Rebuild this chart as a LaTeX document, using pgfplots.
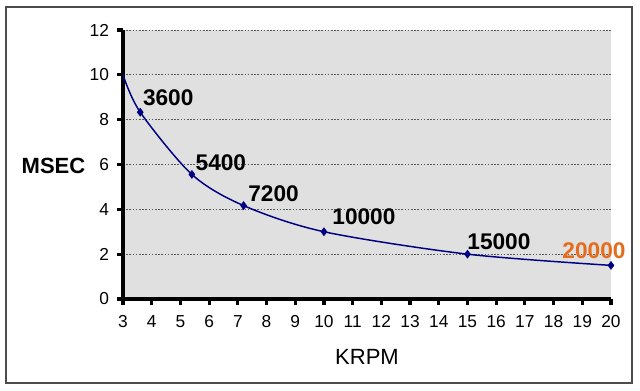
\documentclass[border=0pt]{standalone}
\usepackage{pgfplots}
\pgfplotsset{compat=1.18}
\usepackage{fontspec}
\setmainfont{Liberation Sans}
\definecolor{navyc}{RGB}{0,0,128}
\definecolor{orangec}{RGB}{230,108,28}
\definecolor{bgc}{RGB}{224,224,224}
\begin{document}
\begin{tikzpicture}
\useasboundingbox (-92.25pt,-69pt) rectangle (387.75pt,224.25pt);
\fill[white] (-92.25pt,-69pt) rectangle (387.75pt,224.25pt);
\draw[line width=1.2pt, gray!60!black] (-87.75pt,-63pt) rectangle (381.75pt,219pt);
\begin{axis}[
  at={(0pt,0pt)}, anchor=south west,
  scale only axis, width=366pt, height=201.75pt,
  xmin=3, xmax=20, ymin=0, ymax=12,
  xtick={3,4,...,20}, ytick={0,2,...,12},
  axis lines=left, axis line style={-, line width=2.4pt, black},
  tick align=outside, major tick length=4.5pt,
  tick style={line width=2.4pt, black},
  axis background/.style={fill=bgc},
  ymajorgrids, grid style={dash pattern=on 1.2pt off 1.2pt, line width=0.7pt, gray!70!black},
  /pgf/number format/assume math mode=true,
  ticklabel style={font=\fontsize{13}{14}\selectfont},
  xticklabel style={yshift=-4.5pt},
  yticklabel style={xshift=-2.5pt},
  xlabel={KRPM}, ylabel={\textbf{MSEC}},
  xlabel style={font=\fontsize{16.5}{18}\selectfont, at={(axis description cs:0.5,-0.2156)}, anchor=center},
  ylabel style={font=\fontsize{16.5}{18}\selectfont, rotate=-90, at={(axis description cs:-0.1424,0.4944)}, anchor=center},
  clip=false,
]
\addplot[navyc, line width=1.1pt, smooth, no marks] coordinates {
  (3,10) (3.6,8.333) (5.4,5.556) (7.2,4.167) (10,3) (15,2) (20,1.5)
};
\addplot[only marks, mark=diamond*, mark size=3pt, color=navyc, fill=navyc] coordinates {
  (3.6,8.333) (5.4,5.556) (7.2,4.167) (10,3) (15,2) (20,1.5)
};
\begin{scope}[every node/.style={font=\bfseries\fontsize{17}{18}\selectfont, anchor=center, inner sep=0pt}]
\node[xshift=21pt, yshift=10.5pt] at (axis cs:3.6,8.333) {3600};
\node[xshift=21.75pt, yshift=9pt] at (axis cs:5.4,5.556) {5400};
\node[xshift=22.5pt, yshift=9pt] at (axis cs:7.2,4.167) {7200};
\node[xshift=30pt, yshift=11.25pt] at (axis cs:10,3) {10000};
\node[xshift=23.6pt, yshift=9pt] at (axis cs:15,2) {15000};
\node[xshift=-12.75pt, yshift=10.8pt, text=orangec] at (axis cs:20,1.5) {20000};
\end{scope}
\end{axis}
\end{tikzpicture}
\end{document}
